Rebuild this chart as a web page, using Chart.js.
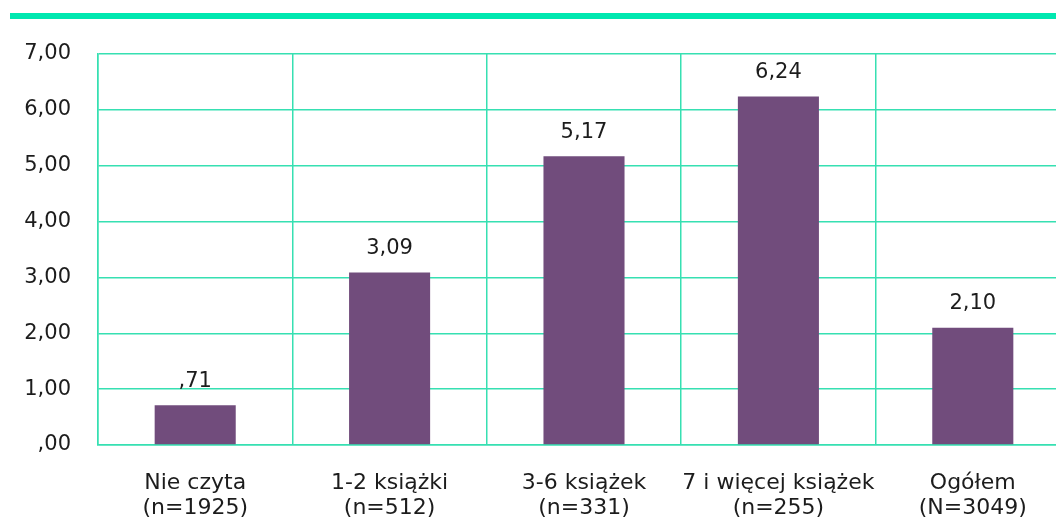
<!DOCTYPE html>
<html lang="pl">
<head>
<meta charset="utf-8">
<title>Średnia liczba książek</title>
<script src="https://cdn.jsdelivr.net/npm/chart.js@4/dist/chart.umd.min.js"></script>
<style>
  html, body { margin: 0; padding: 0; background: #fff; overflow: hidden; }
  body { width: 1056px; height: 518px; position: relative; }
  .topbar { position: absolute; left: 10px; top: 13px; width: 1046px; height: 6px; background: #00e8b0; z-index: 2; }
  .wrap { position: absolute; left: 0; top: 0; width: 1100px; height: 518px; }
</style>
</head>
<body>
<div class="topbar"></div>
<div class="wrap"><canvas id="chart"></canvas></div>
<script>
// Categories (two-line labels) and mean values
const categories = [
  ["Nie czyta", "(n=1925)"],
  ["1-2 książki", "(n=512)"],
  ["3-6 książek", "(n=331)"],
  ["7 i więcej książek", "(n=255)"],
  ["Ogółem", "(N=3049)"],
];
const values = [0.71, 3.09, 5.17, 6.24, 2.10];
const yTicks = [0, 1, 2, 3, 4, 5, 6, 7];

const FONT = "'DejaVu Sans', sans-serif";
const TEXT = "#1c1c1c";
const GRID = "#36e0b2";
const BAR = "#714c7c";

//Polish decimal format, leading zero dropped (",71")
function fmt(v) {
  return v.toFixed(2).replace(".", ",").replace(/^0,/, ",");
}

//Value labels above each bar
const valueLabels = {
  id: "valueLabels",
  afterDatasetsDraw(chart) {
    const ctx = chart.ctx;
    const meta = chart.getDatasetMeta(0);
    ctx.save();
    ctx.font = "21px " + FONT;
    ctx.fillStyle = TEXT;
    ctx.textAlign = "center";
    ctx.textBaseline = "middle";
    meta.data.forEach((bar, i) => {
      ctx.fillText(fmt(values[i]), bar.x, bar.y - 24);
    });
    ctx.restore();
  },
};

new Chart(document.getElementById("chart"), {
  type: "bar",
  data: {
    labels: categories,
    datasets: [{
      data: values,
      backgroundColor: BAR,
      barPercentage: 0.417,
      categoryPercentage: 1,
    }],
  },
  options: {
    responsive: true,
    maintainAspectRatio: false,
    animation: false,
    layout: { padding: { top: 54, right: 30, left: 0, bottom: 0 } },
    plugins: {
      legend: { display: false },
      tooltip: { enabled: false },
    },
    scales: {
      x: {
        grid: { color: GRID, lineWidth: 1.5, drawTicks: false, offset: true },
        border: { color: GRID, width: 1.5 },
        ticks: {
          color: TEXT,
          font: { family: FONT, size: 22, lineHeight: 1.14 },
          padding: 26,
          maxRotation: 0,
          autoSkip: false,
        },
        afterFit(scale) { scale.height = 73; },
      },
      y: {
        min: 0,
        max: 7,
        afterBuildTicks(scale) { scale.ticks = yTicks.map((v) => ({ value: v })); },
        grid: { color: GRID, lineWidth: 1.5, drawTicks: false },
        border: { color: GRID, width: 1.5 },
        ticks: {
          color: TEXT,
          font: { family: FONT, size: 21 },
          padding: 27,
          callback: (v) => fmt(v),
        },
        afterFit(scale) { scale.width = 98; },
      },
    },
  },
  plugins: [valueLabels],
});
</script>
</body>
</html>
